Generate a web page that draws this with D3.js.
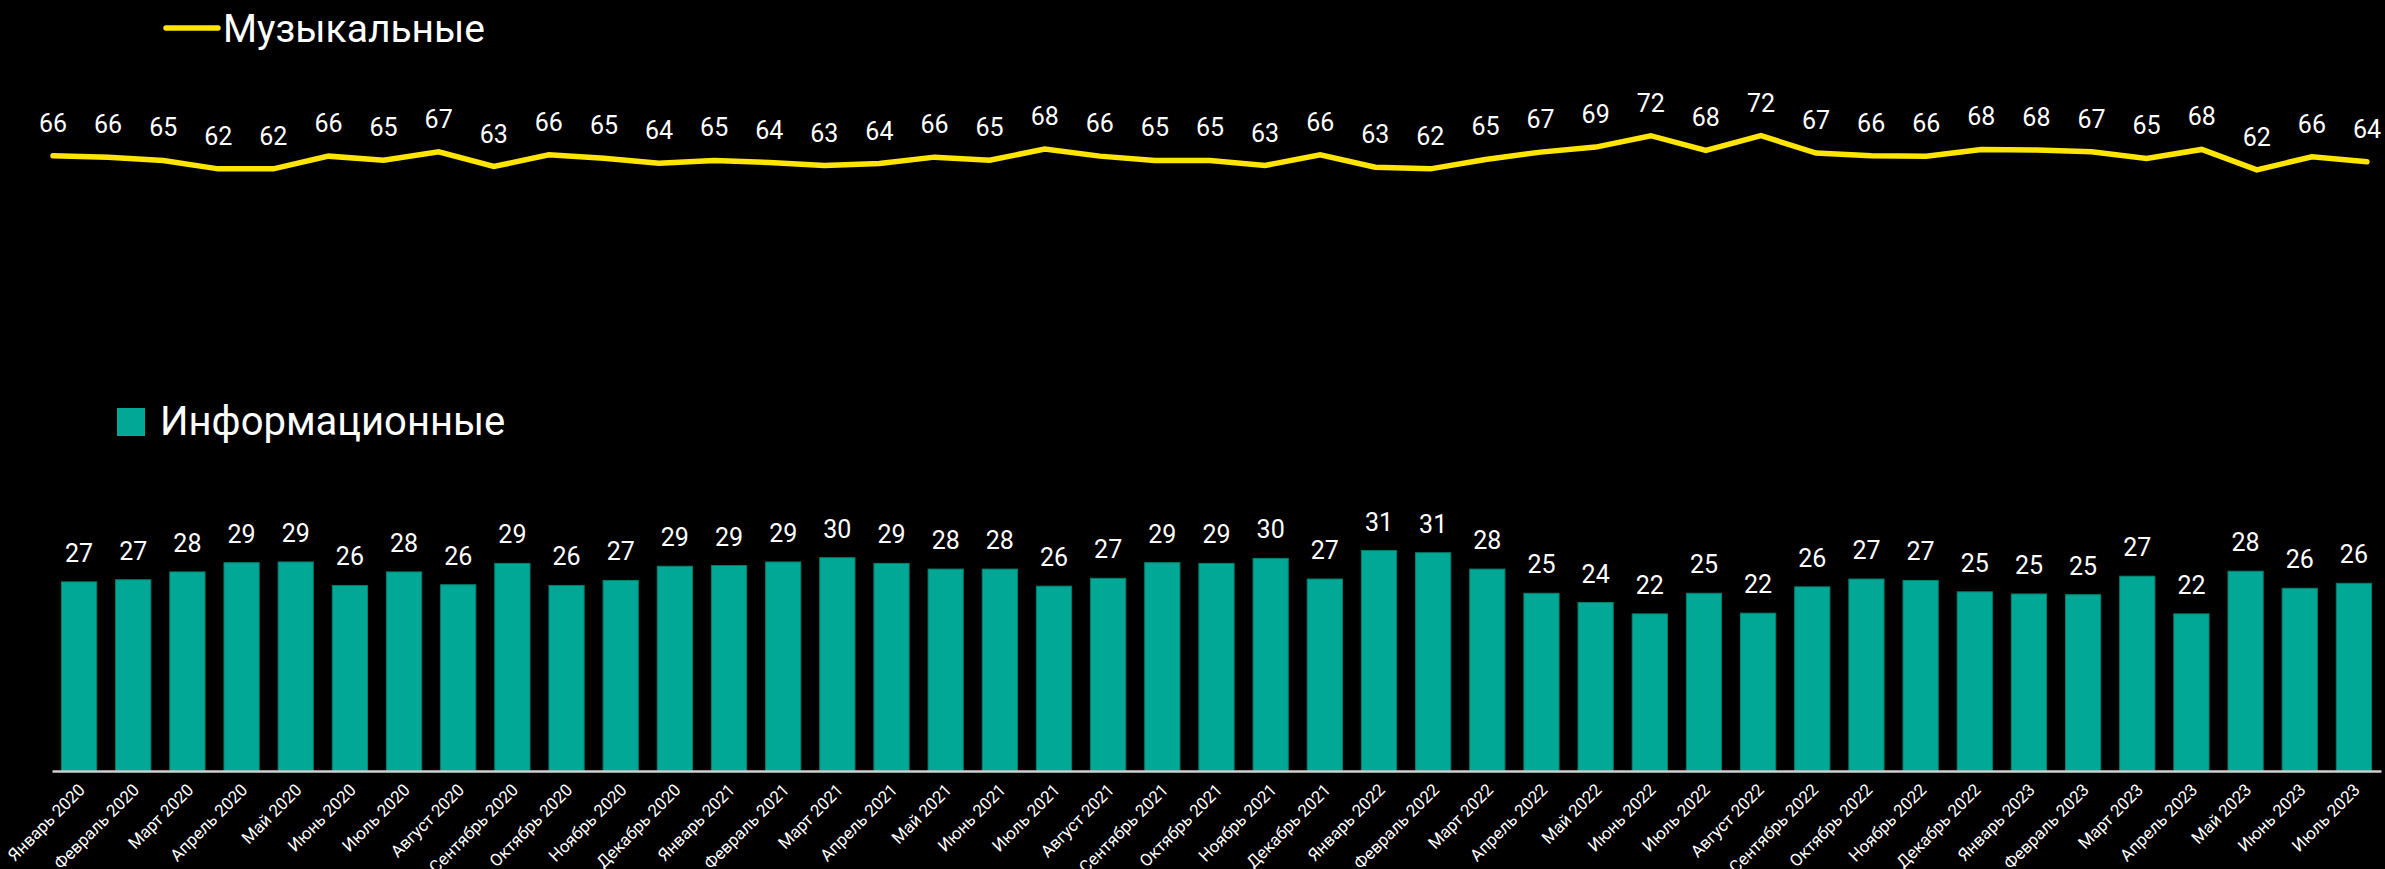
<!DOCTYPE html>
<html>
<head>
<meta charset="utf-8">
<script src="https://cdn.jsdelivr.net/npm/d3@7"></script>
<style>
  html, body { margin: 0; padding: 0; background: #000; }
  svg { display: block; font-family: Roboto, "Noto Sans", sans-serif; }
</style>
</head>
<body>
<div id="viz-wrapper"></div>
<script>
let width = 2385,
    height = 869;

// months on the x axis
let months = [
  'Январь 2020', 'Февраль 2020', 'Март 2020', 'Апрель 2020', 'Май 2020', 'Июнь 2020',
  'Июль 2020', 'Август 2020', 'Сентябрь 2020', 'Октябрь 2020', 'Ноябрь 2020', 'Декабрь 2020',
  'Январь 2021', 'Февраль 2021', 'Март 2021', 'Апрель 2021', 'Май 2021', 'Июнь 2021',
  'Июль 2021', 'Август 2021', 'Сентябрь 2021', 'Октябрь 2021', 'Ноябрь 2021', 'Декабрь 2021',
  'Январь 2022', 'Февраль 2022', 'Март 2022', 'Апрель 2022', 'Май 2022', 'Июнь 2022',
  'Июль 2022', 'Август 2022', 'Сентябрь 2022', 'Октябрь 2022', 'Ноябрь 2022', 'Декабрь 2022',
  'Январь 2023', 'Февраль 2023', 'Март 2023', 'Апрель 2023', 'Май 2023', 'Июнь 2023',
  'Июль 2023'
];

// "Музыкальные" (line)
let musicValues = [
  66.0, 65.6, 64.6, 62.1, 62.1, 65.9, 64.7, 67.2, 62.8, 66.3, 65.3, 63.8,
  64.6, 64.0, 63.1, 63.7, 65.6, 64.7, 68.0, 65.9, 64.6, 64.6, 63.1, 66.3,
  62.6, 62.1, 64.9, 67.1, 68.6, 72.0, 67.6, 72.0, 66.8, 66.0, 65.9, 67.9,
  67.7, 67.2, 65.2, 67.9, 61.8, 65.7, 64.2
];

// "Информационные" (bars)
let infoValues = [
  26.6, 26.9, 28.0, 29.3, 29.4, 26.1, 28.0, 26.2, 29.2, 26.1, 26.8, 28.8,
  28.9, 29.4, 30.0, 29.2, 28.4, 28.4, 26.0, 27.1, 29.3, 29.2, 29.9, 27.0,
  31.0, 30.7, 28.4, 25.0, 23.7, 22.1, 25.0, 22.2, 25.9, 27.0, 26.8, 25.2,
  24.9, 24.8, 27.4, 22.1, 28.1, 25.7, 26.4
];

let seriesNames = ['Музыкальные', 'Информационные'];

let yellow = '#ffe500',
    teal = '#02a896';

let svg = d3.select('#viz-wrapper')
  .append('svg')
  .attr('width', width)
  .attr('height', height);

svg.append('rect')
  .attr('width', width)
  .attr('height', height)
  .attr('fill', '#000');

// ---------- line chart (top) ----------
let xLine = d3.scalePoint().domain(months).range([53, 2367]);
let yLine = d3.scaleLinear().domain([62, 72]).range([169.2, 135.7]);

let line = d3.line()
  .x(function(d, i) { return xLine(months[i]); })
  .y(function(d) { return yLine(d); });

svg.append('path')
  .datum(musicValues)
  .attr('d', line)
  .attr('fill', 'none')
  .attr('stroke', yellow)
  .attr('stroke-width', 5.5)
  .attr('stroke-linecap', 'round');

svg.selectAll('text.music-label')
  .data(musicValues)
  .enter()
  .append('text')
  .attr('class', 'music-label')
  .attr('x', function(d, i) { return xLine(months[i]); })
  .attr('y', function(d) { return yLine(d) - 24; })
  .attr('text-anchor', 'middle')
  .attr('fill', '#fff')
  .style('font-size', '25px')
  .text(function(d) { return Math.round(d); });

// legend for line
svg.append('line')
  .attr('x1', 166).attr('x2', 218)
  .attr('y1', 28).attr('y2', 28)
  .attr('stroke', yellow)
  .attr('stroke-width', 5.5)
  .attr('stroke-linecap', 'round');

svg.append('text')
  .attr('x', 223)
  .attr('y', 42)
  .attr('fill', '#fff')
  .style('font-size', '39px')
  .text(seriesNames[0]);

// ---------- bar chart (bottom) ----------
let xBar = d3.scaleBand()
  .domain(months)
  .range([52, 2381])
  .paddingInner(0.35)
  .paddingOuter(0.175);

let yBar = d3.scaleLinear().domain([0, 31]).range([771, 550.6]);

svg.selectAll('rect.bar')
  .data(infoValues)
  .enter()
  .append('rect')
  .attr('class', 'bar')
  .attr('x', function(d, i) { return xBar(months[i]); })
  .attr('y', function(d) { return yBar(d); })
  .attr('width', xBar.bandwidth())
  .attr('height', function(d) { return yBar(0) - yBar(d); })
  .attr('fill', teal)
  .attr('stroke', '#00806f')
  .attr('stroke-width', 1);

svg.selectAll('text.info-label')
  .data(infoValues)
  .enter()
  .append('text')
  .attr('class', 'info-label')
  .attr('x', function(d, i) { return xBar(months[i]) + xBar.bandwidth() / 2; })
  .attr('y', function(d) { return yBar(d) - 20; })
  .attr('text-anchor', 'middle')
  .attr('fill', '#fff')
  .style('font-size', '25px')
  .text(function(d) { return Math.round(d); });

// x axis
let xAxis = d3.axisBottom(xBar).tickSize(0);

let axisG = svg.append('g')
  .attr('transform', 'translate(0,771)')
  .call(xAxis);

axisG.select('.domain')
  .attr('stroke', '#cfcfcf')
  .attr('stroke-width', 2.5);

axisG.selectAll('text')
  .attr('y', 0)
  .attr('dy', 0)
  .attr('transform', 'translate(7,20) rotate(-45)')
  .style('text-anchor', 'end')
  .style('font-size', '17px')
  .style('font-family', 'Roboto, sans-serif')
  .attr('fill', '#fff');

// legend for bars
svg.append('rect')
  .attr('x', 117).attr('y', 408)
  .attr('width', 28).attr('height', 28)
  .attr('fill', teal);

svg.append('text')
  .attr('x', 160)
  .attr('y', 435)
  .attr('fill', '#fff')
  .style('font-size', '40px')
  .text(seriesNames[1]);
</script>
</body>
</html>
